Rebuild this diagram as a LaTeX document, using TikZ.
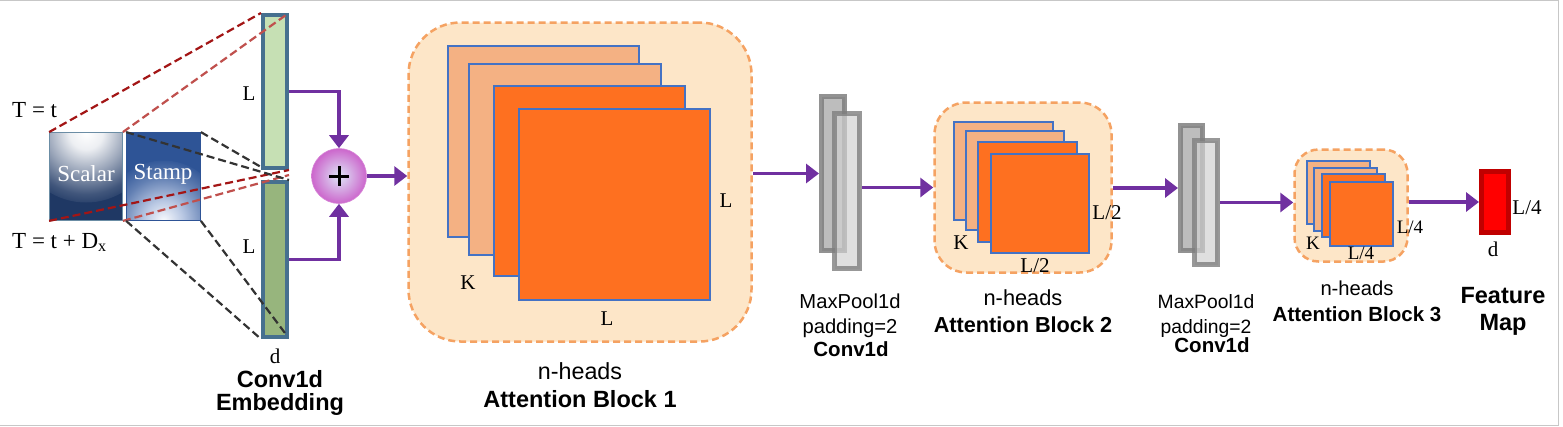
\documentclass[tikz,border=0pt]{standalone}
\usepackage{fontspec}
\setmainfont{Liberation Serif}
\setsansfont{Liberation Sans}
\usetikzlibrary{arrows.meta,calc}
\definecolor{purp}{HTML}{7030A0}
\definecolor{blkfill}{HTML}{FDE6C8}
\definecolor{blkline}{HTML}{F5A262}
\definecolor{salmon}{HTML}{F4B183}
\definecolor{orng}{HTML}{FE7020}
\definecolor{sqline}{HTML}{4472C4}
\definecolor{barline}{HTML}{46708F}
\definecolor{greenL}{HTML}{C6E0B4}
\definecolor{greenD}{HTML}{97B57D}
\definecolor{dred}{HTML}{A31515}
\definecolor{lred}{HTML}{C0504D}
\definecolor{navy}{HTML}{1F3864}
\definecolor{navyB}{HTML}{2E5496}
\definecolor{gline}{HTML}{7F7F7F}
\definecolor{gfillA}{HTML}{BDBDBD}
\definecolor{gfillB}{HTML}{D2D2D2}
\definecolor{fmline}{HTML}{C00000}
\definecolor{orchid}{HTML}{CC66CC}
\definecolor{paleblue}{HTML}{DDE6F7}
\pgfdeclareradialshading{scalarshade}{\pgfpoint{0bp}{0bp}}{%
  color(0bp)=(white); color(6bp)=(white!92!navy); color(14bp)=(white!55!navy);
  color(22bp)=(white!15!navy); color(27bp)=(navy); color(50bp)=(navy)}
\pgfdeclareradialshading{stampshade}{\pgfpoint{0bp}{0bp}}{%
  color(0bp)=(white!80!paleblue); color(8bp)=(paleblue!80!navyB); color(18bp)=(paleblue!30!navyB);
  color(26bp)=(navyB); color(50bp)=(navyB)}
\tikzset{
  arr/.style={draw=purp, line width=3.5pt, -{Triangle[length=13pt,width=19pt]}},
  block/.style={draw=blkline, fill=blkfill, line width=2.5pt, dash pattern=on 7pt off 4pt, inner sep=0},
  sqA/.style={draw=sqline, fill=salmon, line width=1.2pt},
  sqB/.style={draw=sqline, fill=orng, line width=1.2pt},
  barbox/.style={draw=barline, line width=4pt, inner sep=0, minimum width=24},
  convA/.style={draw=gline, fill=gfillA, line width=5pt, draw opacity=0.85, inner sep=0},
  convB/.style={draw=gline, fill=gfillB, line width=5pt, draw opacity=0.8, fill opacity=0.7, inner sep=0},
  lab/.style={inner sep=0, anchor=base, font=\fontsize{21}{23}\selectfont},
  labs/.style={inner sep=0, anchor=base, font=\fontsize{19}{21}\selectfont},
  sansB/.style={inner sep=0, anchor=base, font=\sffamily\bfseries\fontsize{23.5}{25}\selectfont},
  sansBm/.style={inner sep=0, anchor=base, font=\sffamily\bfseries\fontsize{21.7}{23}\selectfont},
  sansBs/.style={inner sep=0, anchor=base, font=\sffamily\bfseries\fontsize{20.5}{22}\selectfont},
  sansR/.style={inner sep=0, anchor=base, font=\sffamily\fontsize{23.3}{25}\selectfont},
  sansRm/.style={inner sep=0, anchor=base, font=\sffamily\fontsize{21.8}{23}\selectfont},
  sansRs/.style={inner sep=0, anchor=base, font=\sffamily\fontsize{20.2}{22}\selectfont},
  sansRt/.style={inner sep=0, anchor=base, font=\sffamily\fontsize{19.3}{21}\selectfont},
  dashR/.style={draw=dred, line width=2.2pt, dash pattern=on 8pt off 4pt},
  dashL/.style={draw=lred, line width=2.2pt, dash pattern=on 8pt off 4pt},
  dashK/.style={draw=black!80, line width=2.2pt, dash pattern=on 8pt off 4pt},
}
\begin{document}
\begin{tikzpicture}[x=1pt,y=-1pt]
\useasboundingbox (0,0) rectangle (1563,426);
\fill[white] (0,0) rectangle (1563,426);
\draw[black!22, line width=1pt] (-2,0.5) -- (1558,0.5) -- (1558,425) -- (-2,425);

% ---- input boxes
\node[draw=barline!80, line width=0.8pt, minimum width=73, minimum height=88, inner sep=0,
  path picture={\fill[navy] (path picture bounding box.south west) rectangle (path picture bounding box.north east);
  \shade[shading=scalarshade] (path picture bounding box.north) circle (70);}]
  (scalar) at (86,176.5) {};
\node[draw=navyB, line width=0.8pt, minimum width=74, minimum height=88, inner sep=0,
  path picture={\fill[navyB] (path picture bounding box.south west) rectangle (path picture bounding box.north east);
  \shade[shading=stampshade] (path picture bounding box.south) circle (60);}]
  (stamp) at (163.5,176.5) {};
\node[inner sep=0, text=white, font=\fontsize{23}{25}\selectfont] (scalarT) at (86,174) {Scalar};
\node[inner sep=0, text=white, font=\fontsize{23}{25}\selectfont] (stampT) at (163,174) {Stamp};
\node[inner sep=0, anchor=base west, font=\fontsize{23}{25}\selectfont] (tt) at (12,117) {T = t};
\node[inner sep=0, anchor=base west, font=\fontsize{23}{25}\selectfont] (ttd) at (12,248) {T = t + D\textsubscript{x}};

% ---- embedding bars
\node[barbox, fill=greenL, minimum height=153] (barU) at (275,91.5) {};
\node[barbox, fill=greenD, minimum height=155] (barL) at (275,259.5) {};
\node[lab] (lU) at (249,100) {L};
\node[lab] (lL) at (249,253) {L};
\node[lab] (dE) at (275,363) {d};
\node[sansB] (convE1) at (280,387) {Conv1d};
\node[sansB] (convE2) at (280,410) {Embedding};

% dashed projection lines
\draw[dashR] (scalar.north west) -- (barU.north west);
\draw[dashR] (scalar.south west) -- (barU.south east);
\draw[dashL] (scalar.north east) -- ($(barU.north east)+(-3,2)$);
\draw[dashL] (scalar.south east) -- ($(barU.south east)+(0,5)$);
\draw[dashK] (stamp.north west) -- (barL.north east);
\draw[dashK] (stamp.north east) -- ($(barU.south west)+(0,-3)$);
\draw[dashK] (stamp.south west) -- (barL.south west);
\draw[dashK] (stamp.south east) -- ($(barL.south east)+(-4,-6)$);

% ---- plus
\node[circle, draw=orchid!80, line width=0.6pt, minimum size=55, inner sep=0,
  shading=radial, inner color=paleblue, outer color=orchid] (plus) at (339,176) {};
\draw[line width=3pt] ($(plus.center)+(-10,0)$) -- ($(plus.center)+(10,0)$)
  ($(plus.center)+(0,-10)$) -- ($(plus.center)+(0,10)$);
\draw[arr] (barU.east) -| (plus.north);
\draw[arr] (barL.east) -| (plus.south);

% ---- attention block 1
\node[block, minimum width=343, minimum height=319, rounded corners=52] (blk1) at (580,182) {};
\draw[arr] (plus.east) -- (plus.east -| blk1.west);
\draw[sqA] (448,46) rectangle (639,237);
\draw[sqA] (469,64) rectangle (661,255);
\draw[sqB] (494,86) rectangle (685,276);
\draw[sqB] (519,109) rectangle (710,300);
\node[lab] (k1) at (468,289) {K};
\node[lab] (l1r) at (726,207) {L};
\node[lab] (l1b) at (607,325) {L};
\node[sansR] (nh1) at (580,379) {n-heads};
\node[sansB] (ab1) at (580,407) {Attention Block 1};

% ---- conv 1
\node[convA, minimum width=23, minimum height=154] (c1a) at (833,173.5) {};
\node[convB, minimum width=25, minimum height=155] (c1b) at (847,191) {};
\draw[arr] (c1a.west -| blk1.east) -- (c1a.west);
\node[sansRs] (mp1) at (850,308) {MaxPool1d};
\node[sansRs] (pd1) at (850,333) {padding=2};
\node[sansBs] (cv1) at (851,356) {Conv1d};

% ---- attention block 2
\node[block, minimum width=177, minimum height=170, rounded corners=32] (blk2) at (1023,187.5) {};
\draw[arr] (c1b.east |- blk2.west) -- (blk2.west);
\draw[sqA] (954,122) rectangle (1053,220);
\draw[sqA] (966,131) rectangle (1064,230);
\draw[sqB] (978,142) rectangle (1077,242);
\draw[sqB] (991,154) rectangle (1089,253);
\node[lab] (k2) at (961,249) {K};
\node[lab] (l2r) at (1107,219) {L/2};
\node[lab] (l2b) at (1035,272) {L/2};
\node[sansRm] (nh2) at (1023,305) {n-heads};
\node[sansBm] (ab2) at (1023,332) {Attention Block 2};

% ---- conv 2
\node[convA, minimum width=22, minimum height=125] (c2a) at (1191.5,188) {};
\node[convB, minimum width=23, minimum height=124] (c2b) at (1206,202.5) {};
\draw[arr] (blk2.east |- c2a.west) -- (c2a.west);
\node[sansRt] (mp2) at (1206,308) {MaxPool1d};
\node[sansRt] (pd2) at (1206,333) {padding=2};
\node[sansBs] (cv2) at (1212,352) {Conv1d};

% ---- attention block 3
\node[block, minimum width=113, minimum height=112, rounded corners=24] (blk3) at (1351,205.5) {};
\draw[arr] (c2b.east) -- (c2b.east -| blk3.west);
\draw[sqA] (1307,161) rectangle (1370,224);
\draw[sqA] (1314,168) rectangle (1377,231);
\draw[sqB] (1322,174) rectangle (1385,237);
\draw[sqB] (1330,182) rectangle (1393,246);
\node[labs] (k3) at (1313,249) {K};
\node[labs] (l3r) at (1410,233) {L/4};
\node[labs] (l3b) at (1361,259) {L/4};
\node[sansRs] (nh3) at (1357,295) {n-heads};
\node[sansBs] (ab3) at (1357,321) {Attention Block 3};

% ---- feature map
\node[draw=fmline, fill=red, line width=5pt, inner sep=0, minimum width=27, minimum height=61] (fmap) at (1495,202) {};
\draw[arr] (blk3.east |- fmap.west) -- (fmap.west);
\node[lab] (lf) at (1527,214) {L/4};
\node[lab] (df) at (1493,256) {d};
\node[sansB] (fm1) at (1503,303) {Feature};
\node[sansB] (fm2) at (1503,330) {Map};
\end{tikzpicture}
\end{document}
